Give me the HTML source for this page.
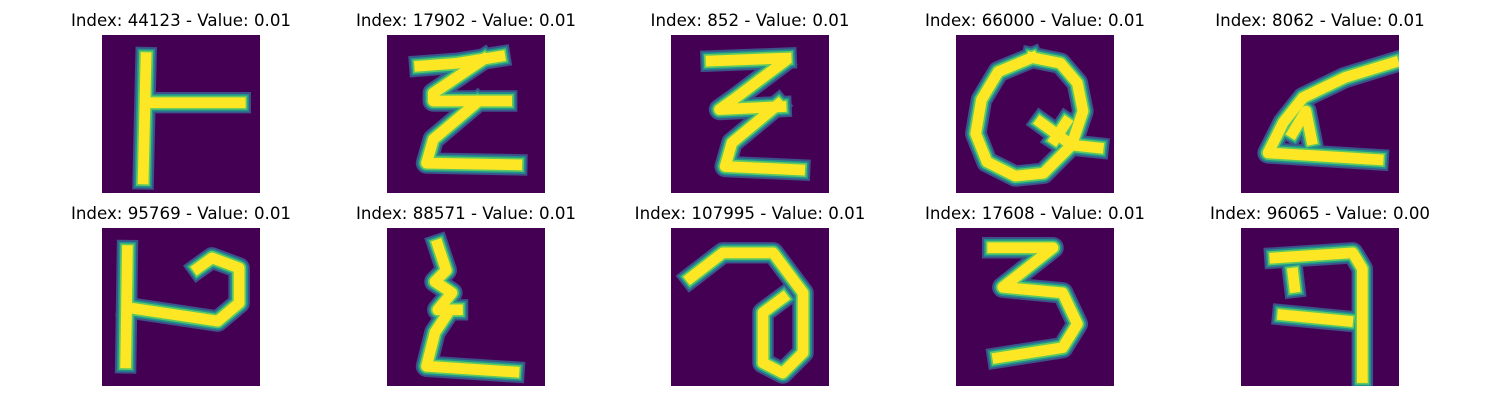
<!DOCTYPE html>
<html><head><meta charset="utf-8">
<style>
html,body{margin:0;padding:0;background:#fff;}
svg{display:block;}
text{font-family:"DejaVu Sans","Liberation Sans",sans-serif;font-size:16.67px;fill:#000;}
</style></head>
<body>
<svg id="fig" width="1500" height="400" viewBox="0 0 1500 400" xmlns="http://www.w3.org/2000/svg"></svg>
<script>
const titles = ["Index: 44123 - Value: 0.01","Index: 17902 - Value: 0.01","Index: 852 - Value: 0.01","Index: 66000 - Value: 0.01","Index: 8062 - Value: 0.01",
"Index: 95769 - Value: 0.01","Index: 88571 - Value: 0.01","Index: 107995 - Value: 0.01","Index: 17608 - Value: 0.01","Index: 96065 - Value: 0.00"];
const strokes0 = [[[7.3,3.5],[6.8,25]],[[7.3,11.5],[24,11.5]]];
const strokes1 = [[[5.3,5],[12,4.5],[19.5,3.3]],[[16.6,3.8],[7.7,9.8],[7.7,11.2],[20.7,11.2]],[[15.4,11.5],[7.7,18],[6.5,22.2],[22.5,22.5]]];
const strokes2 = [[[6.6,4.1],[19.9,3.6]],[[19.3,4.4],[10.5,11],[8.1,12.7],[19,12.2]],[[18.5,11.8],[10.3,18.6],[9.1,22.8],[22.3,23.4]]];
const strokes3 = [[[13,3.5],[18,4.5],[21,8],[22,13],[20,19],[15,24],[10,24.5],[5,22],[3,17],[4,11],[7,6],[13,3.5]],[[14.5,15],[20,19],[24.7,19.5]],[[19,15],[17,18]]];
const strokes4 = [[[26.5,4.4],[18,7],[10.5,10.6],[7,15],[4.3,20.4],[23.8,21.6]],[[8.7,16.8],[11,13],[12,18]]];
const strokes5 = [[[4,3.5],[3.7,23.4]],[[4,13.6],[20,16],[23.8,12.8],[23.8,6.6],[19,4.8],[16.5,6.6]]];
const strokes6 = [[[8.5,2.5],[10,7],[8,9],[11,11],[8.5,14],[12,14]],[[10,15],[8,18],[6.5,24],[22,25]]];
const strokes7 = [[[3,8.3],[8.7,3.9],[17.6,3.9],[22.9,11],[22.9,21.6],[19.3,25.2],[15.8,23.4],[15.8,14.5],[19.3,11.9]]];
const strokes8 = [[[6,3],[16.7,3],[7.8,10],[18.4,11],[21,16.5],[18.4,20.7],[6.9,22.5]]];
const strokes9 = [[[5.5,4.8],[19.3,3.9],[21,6.7],[21,26]],[[6.9,14.9],[18.4,16]],[[8.7,7.5],[9,10]]];
const allStrokes = [strokes0,strokes1,strokes2,strokes3,strokes4,strokes5,strokes6,strokes7,strokes8,strokes9];

const NS = "http://www.w3.org/2000/svg";
const svg = document.getElementById("fig");
const colX = [102,387,671,956,1241], rowY = [35,228], SIZE = 158, GRID = 28;
const cell = SIZE/GRID;
function mk(tag, attrs){const e=document.createElementNS(NS,tag);for(const k in attrs)e.setAttribute(k,attrs[k]);return e;}
allStrokes.forEach((strokes,i)=>{
  const x0 = colX[i%5], y0 = rowY[Math.floor(i/5)];
  const sx = v => x0 + (v+0.5)*cell, sy = v => y0 + (v+0.5)*cell;
  const g = mk("g",{});
  
  
  const cp = mk("clipPath",{id:"cp"+i});
  cp.appendChild(mk("rect",{x:x0,y:y0,width:SIZE,height:SIZE}));
  g.appendChild(cp);
  const bg = mk("rect",{x:x0,y:y0,width:SIZE,height:SIZE,fill:"#440154"});
  
  
  g.appendChild(bg);
  const layers=[["#3b528b",3.8],["#21918c",3.1],["#5ec962",2.5],["#fde725",1.9]];
  const ig = mk("g",{"clip-path":"url(#cp"+i+")"});
  layers.forEach(([c,w])=>{
    strokes.forEach(s=>{
      const pl = mk("polyline",{points:s.map(p=>sx(p[0])+","+sy(p[1])).join(" "),fill:"none",stroke:c,"stroke-width":w*cell,"stroke-linecap":"square","stroke-linejoin":"round"});
      
      
      ig.appendChild(pl);
    });
  });
  g.appendChild(ig);
  const t = mk("text",{x:x0+SIZE/2,y:y0-9,"text-anchor":"middle"});
  t.textContent = titles[i];
  
  
  g.appendChild(t);
  svg.appendChild(g);
});
</script>
</body></html>
